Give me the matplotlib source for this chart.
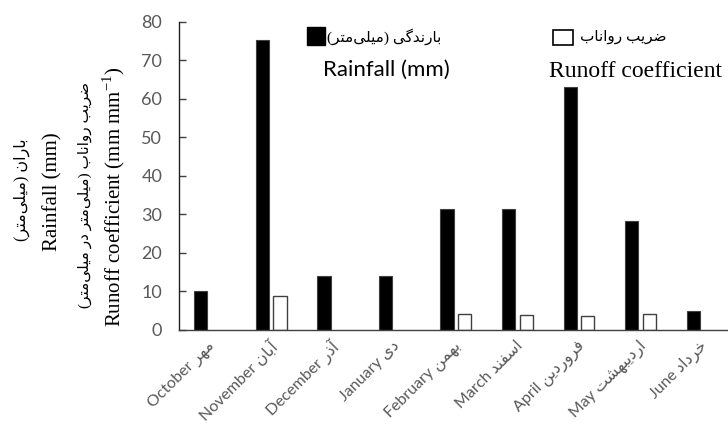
import numpy as np
import matplotlib.pyplot as plt
from matplotlib.patches import Rectangle

# -----------------------------------------------
# -                   DATA                      -
# -----------------------------------------------
months_en = ['October', 'November', 'December', 'January', 'February',
             'March', 'April', 'May', 'June']
months_fa = ['مهر', 'آبان', 'آذر', 'دی', 'بهمن', 'اسفند', 'فروردین',
             'اردیبهشت', 'خرداد']
rainfall = [10.0, 75.2, 13.9, 13.9, 31.3, 31.5, 63.1, 28.4, 5.0]
runoff = [None, 8.9, None, None, 4.2, 3.9, 3.6, 4.2, None]
y_ticks = [0, 10, 20, 30, 40, 50, 60, 70, 80]

# -----------------------------------------------
# -   PERSIAN SHAPING (no bidi in matplotlib)   -
# -----------------------------------------------
# isolated, final, initial, medial
FORMS = {
    'ا': ('\uFE8D', '\uFE8E'), 'آ': ('\uFE81', '\uFE82'),
    'د': ('\uFEA9', '\uFEAA'), 'ذ': ('\uFEAB', '\uFEAC'),
    'ر': ('\uFEAD', '\uFEAE'), 'و': ('\uFEED', '\uFEEE'),
    'ب': ('\uFE8F', '\uFE90', '\uFE91', '\uFE92'),
    'ت': ('\uFE95', '\uFE96', '\uFE97', '\uFE98'),
    'خ': ('\uFEA5', '\uFEA6', '\uFEA7', '\uFEA8'),
    'س': ('\uFEB1', '\uFEB2', '\uFEB3', '\uFEB4'),
    'ش': ('\uFEB5', '\uFEB6', '\uFEB7', '\uFEB8'),
    'ض': ('\uFEBD', '\uFEBE', '\uFEBF', '\uFEC0'),
    'ف': ('\uFED1', '\uFED2', '\uFED3', '\uFED4'),
    'ل': ('\uFEDD', '\uFEDE', '\uFEDF', '\uFEE0'),
    'م': ('\uFEE1', '\uFEE2', '\uFEE3', '\uFEE4'),
    'ن': ('\uFEE5', '\uFEE6', '\uFEE7', '\uFEE8'),
    'ه': ('\uFEE9', '\uFEEA', '\uFEEB', '\uFEEC'),
    'ی': ('\uFBFC', '\uFBFD', '\uFBFE', '\uFBFF'),
    'گ': ('\uFB92', '\uFB93', '\uFB94', '\uFB95'),
}


def fa(text):
    out = []
    for i, ch in enumerate(text):
        if ch not in FORMS:
            if ch != '\u200c':
                out.append(ch)
            continue
        prev = text[i - 1] if i > 0 else ''
        nxt = text[i + 1] if i + 1 < len(text) else ''
        join_prev = prev in FORMS and len(FORMS[prev]) == 4
        join_next = nxt in FORMS and len(FORMS[ch]) == 4
        f = FORMS[ch]
        if join_prev and join_next:
            out.append(f[3])
        elif join_prev:
            out.append(f[1])
        elif join_next:
            out.append(f[2])
        else:
            out.append(f[0])
    vis = ''.join(reversed(out))
    return vis.translate(str.maketrans('()', ')('))


# -----------------------------------------------
# -                   PLOT                      -
# -----------------------------------------------
SANS = ['Lato', 'DejaVu Sans']
SERIF = ['Liberation Serif', 'DejaVu Sans']
GREY = '#595959'

fig = plt.figure(figsize=(7.28, 4.28), dpi=100)
ax = fig.add_axes([179 / 728, 98 / 428, 554 / 728, 308.3 / 428])

x = np.arange(len(months_en))
w = 0.215
ax.bar(x - 0.145, rainfall, width=w, color='black', edgecolor='#404040', linewidth=0.8)
rx = [xi for xi, v in zip(x, runoff) if v is not None]
rv = [v for v in runoff if v is not None]
ax.bar(np.array(rx) + 0.14, rv, width=w, color='white', edgecolor='#404040', linewidth=1.0)

ax.set_xlim(-0.5, len(months_en) - 0.5)
ax.set_ylim(0, 80)
ax.set_yticks(y_ticks)
ax.tick_params(axis='y', direction='in', length=5, width=1, color='#404040',
               pad=12, labelsize=13, labelcolor=GREY)
ax.tick_params(axis='x', length=0, pad=10, labelsize=11.5, labelcolor=GREY)
for lab in ax.get_yticklabels():
    lab.set_family(SANS)

ax.set_xticks(x + 0.05)
ax.set_xticklabels([f'{en} {fa(p)}' for en, p in zip(months_en, months_fa)],
                   rotation=45, ha='right', va='center', rotation_mode='anchor',
                   family=SANS)

for s in ['top', 'right']:
    ax.spines[s].set_visible(False)
ax.spines['left'].set_color('#202020')
ax.spines['bottom'].set_color('#404040')
ax.spines['left'].set_linewidth(1.0)
ax.spines['bottom'].set_linewidth(1.0)

# legend
ax.add_patch(Rectangle((0.231, 0.924), 0.0325, 0.0584, transform=ax.transAxes,
                       facecolor='black', edgecolor='black', clip_on=False))
ax.text(0.267, 0.950, fa('بارندگی (میلی‌متر)'), transform=ax.transAxes,
        ha='left', va='center', fontsize=11, family=SERIF)
ax.text(0.374, 0.843, 'Rainfall (mm)', transform=ax.transAxes,
        ha='center', va='center', fontsize=16, family=SANS)
ax.add_patch(Rectangle((0.675, 0.924), 0.036, 0.0487, transform=ax.transAxes,
                       facecolor='white', edgecolor='black', linewidth=1.2,
                       clip_on=False))
ax.text(0.724, 0.950, fa('ضریب رواناب'), transform=ax.transAxes,
        ha='left', va='center', fontsize=11, family=SERIF)
ax.text(0.824, 0.837, 'Runoff coefficient', transform=ax.transAxes,
        ha='center', va='center', fontsize=17, family=SERIF)

# y label lines
fig.text(22 / 728, 1 - 190 / 428, fa('باران (میلی‌متر)'), rotation=90,
         ha='center', va='center', fontsize=11.5, family=SERIF)
fig.text(53 / 728, 1 - 192 / 428, 'Rainfall (mm)', rotation=90,
         ha='center', va='center', fontsize=15, family=SERIF)
fig.text(85 / 728, 1 - 195 / 428, fa('ضریب رواناب (میلی‌متر در میلی‌متر)'),
         rotation=90, ha='center', va='center', fontsize=11, family=SERIF)
fig.text(114 / 728, 1 - 197 / 428,
         r'Runoff coefficient (mm mm$^{\mathregular{-1}}$)', rotation=90,
         ha='center', va='center', fontsize=15, family=SERIF)

fig.savefig('out.png', dpi=100)
